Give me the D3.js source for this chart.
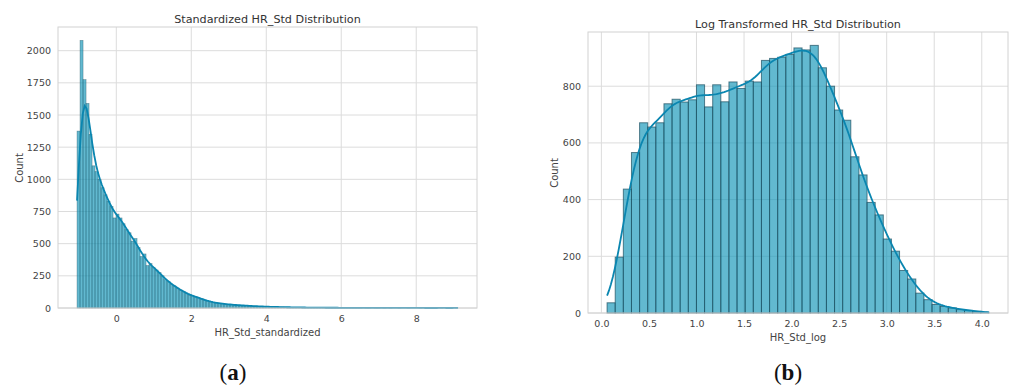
<!DOCTYPE html>
<html>
<head>
<meta charset="utf-8">
<script src="https://cdn.jsdelivr.net/npm/d3@7"></script>
<style>
  body { margin: 0; background: #fff; }
  svg { display: block; }
  text { font-family: "DejaVu Sans", sans-serif; }
</style>
</head>
<body>
<svg id="chart" width="1009" height="385"></svg>
<script>
// ---- Standardized HR_Std: histogram counts (127 equal-width bins) ----
const stdRange = [-1.047, 9.113];
const stdCounts = [
  1375, 2080, 1775, 1590, 1350, 1105, 1060, 1000, 935, 880,
  830, 790, 700, 730, 700, 655, 610, 585, 520, 540,
  470, 400, 420, 330, 345, 315, 295, 275, 250, 220,
  205, 185, 172, 155, 140, 128, 115, 100, 95, 88,
  80, 72, 62, 55, 48, 43, 40, 36, 33, 30,
  28, 26, 24, 22, 21, 20, 18, 17, 15, 14,
  13, 12, 11, 10, 9, 9, 8, 7, 7, 6,
  6, 5, 5, 5, 4, 4, 4, 3, 3, 3,
  3, 2, 2, 2, 2, 2, 2, 2, 1, 1,
  1, 2, 1, 1, 1, 0, 1, 1, 0, 1,
  1, 0, 1, 0, 1, 0, 0, 1, 0, 0,
  1, 0, 0, 0, 1, 0, 0, 0, 0, 0,
  0, 1, 0, 0, 0, 0, 1
];
const stdXTicks = [0, 2, 4, 6, 8];
const stdYTicks = [0, 250, 500, 750, 1000, 1250, 1500, 1750, 2000];

// ---- Log-transformed HR_Std: histogram counts (47 equal-width bins) ----
const logRange = [0.06, 4.075];
const logCounts = [
  36, 197, 437, 566, 671, 656, 671, 738, 754, 744,
  752, 805, 727, 805, 745, 815, 792, 818, 815, 891,
  898, 902, 912, 935, 928, 944, 865, 800, 716, 680,
  551, 487, 390, 346, 261, 218, 150, 120, 70, 47,
  30, 23, 18, 12, 9, 6, 3
];
const logXTicks = [0, 0.5, 1, 1.5, 2, 2.5, 3, 3.5, 4];
const logYTicks = [0, 200, 400, 600, 800];

const svg = d3.select("#chart");

const BAR_FILL = "#1094b8";
const BAR_EDGE = "#1c4f5f";
const LINE = "#0a86b0";
const GRID = "#dcdcdc";
const TEXT = "#444";

// Gaussian KDE over the binned sample (Scott's rule), scaled to counts per bin
function kdeCounts(counts, lo, hi) {
  const w = (hi - lo) / counts.length;
  const centers = counts.map((_, i) => lo + w * (i + 0.5));
  const n = d3.sum(counts);
  const mean = d3.sum(counts, (c, i) => c * centers[i]) / n;
  const variance = d3.sum(counts, (c, i) => c * (centers[i] - mean) ** 2) / (n - 1);
  const bw = Math.sqrt(variance) * Math.pow(n, -0.2);
  const norm = 1 / Math.sqrt(2 * Math.PI);
  return d3.range(200).map(k => {
    const x = lo + (hi - lo) * k / 199;
    const y = d3.sum(counts, (c, i) => {
      const u = (x - centers[i]) / bw;
      return c * w * norm * Math.exp(-0.5 * u * u) / bw;
    });
    return [x, y];
  });
}

function panel(opts) {
  const { box, counts, range, xTicks, yTicks, xFmt, title, xLabel, countPos } = opts;
  const [lo, hi] = range;
  const pad = (hi - lo) * 0.05;
  const kde = kdeCounts(counts, lo, hi);
  const yMax = Math.max(d3.max(counts), d3.max(kde, d => d[1])) * 1.05;

  const x = d3.scaleLinear().domain([lo - pad, hi + pad]).range([box.x0, box.x1]);
  const y = d3.scaleLinear().domain([0, yMax]).range([box.y1, box.y0]);

  const g = svg.append("g");

  // grid
  g.append("g").selectAll("line.v").data(xTicks).join("line")
    .attr("x1", d => x(d)).attr("x2", d => x(d))
    .attr("y1", box.y0).attr("y2", box.y1)
    .attr("stroke", GRID).attr("stroke-width", 1);
  g.append("g").selectAll("line.h").data(yTicks).join("line")
    .attr("x1", box.x0).attr("x2", box.x1)
    .attr("y1", d => y(d)).attr("y2", d => y(d))
    .attr("stroke", GRID).attr("stroke-width", 1);

  // histogram bars
  const w = (hi - lo) / counts.length;
  g.append("g").selectAll("rect").data(counts).join("rect")
    .attr("x", (d, i) => x(lo + i * w))
    .attr("width", (d, i) => x(lo + (i + 1) * w) - x(lo + i * w))
    .attr("y", d => y(d))
    .attr("height", d => y(0) - y(d))
    .attr("fill", BAR_FILL).attr("fill-opacity", 0.66)
    .attr("stroke", BAR_EDGE).attr("stroke-opacity", opts.edgeOpacity)
    .attr("stroke-width", opts.edgeWidth);

  // density curve
  g.append("path").datum(kde)
    .attr("fill", "none").attr("stroke", LINE).attr("stroke-width", 1.8)
    .attr("d", d3.line().x(d => x(d[0])).y(d => y(d[1])));

  // frame
  g.append("rect")
    .attr("x", box.x0).attr("y", box.y0)
    .attr("width", box.x1 - box.x0).attr("height", box.y1 - box.y0)
    .attr("fill", "none").attr("stroke", "#d2d2d2").attr("stroke-width", 1);

  // axes
  const xAxis = g.append("g").attr("transform", `translate(0,${box.y1})`)
    .call(d3.axisBottom(x).tickValues(xTicks).tickFormat(xFmt).tickSize(0).tickPadding(7.5));
  const yAxis = g.append("g").attr("transform", `translate(${box.x0},0)`)
    .call(d3.axisLeft(y).tickValues(yTicks).tickFormat(d3.format("d")).tickSize(0).tickPadding(7));
  [xAxis, yAxis].forEach(a => {
    a.select(".domain").remove();
    a.selectAll("text").attr("fill", TEXT).style("font-size", "9.5px")
      .style("font-family", "'DejaVu Sans', sans-serif");
  });

  const cx = (box.x0 + box.x1) / 2;
  g.append("text").attr("x", cx).attr("y", box.y0 - 4.5)
    .attr("text-anchor", "middle").attr("fill", "#333").style("font-size", "11.2px")
    .text(title);
  g.append("text").attr("x", cx).attr("y", box.y1 + 28)
    .attr("text-anchor", "middle").attr("fill", TEXT).style("font-size", "10px")
    .text(xLabel);
  g.append("text").attr("transform", `translate(${countPos[0]},${countPos[1]}) rotate(-90)`)
    .attr("text-anchor", "middle").attr("fill", TEXT).style("font-size", "10px")
    .text("Count");
}

panel({
  box: { x0: 58, y0: 27, x1: 477, y1: 308 },
  counts: stdCounts, range: stdRange,
  xTicks: stdXTicks, yTicks: stdYTicks, xFmt: d3.format("d"),
  title: "Standardized HR_Std Distribution",
  xLabel: "HR_Std_standardized",
  countPos: [23, 168],
  edgeWidth: 0.6, edgeOpacity: 0.55
});

panel({
  box: { x0: 588, y0: 32, x1: 1008, y1: 313 },
  counts: logCounts, range: logRange,
  xTicks: logXTicks, yTicks: logYTicks, xFmt: d3.format(".1f"),
  title: "Log Transformed HR_Std Distribution",
  xLabel: "HR_Std_log",
  countPos: [558, 173],
  edgeWidth: 1, edgeOpacity: 0.7
});

// sub-figure captions
[["a", 233], ["b", 788]].forEach(([letter, cx]) => {
  const t = svg.append("text").attr("x", cx).attr("y", 380)
    .attr("text-anchor", "middle").attr("fill", "#111")
    .style("font-family", "'Liberation Serif', serif").style("font-size", "23px");
  t.append("tspan").text("(");
  t.append("tspan").style("font-weight", "bold").text(letter);
  t.append("tspan").text(")");
});
</script>
</body>
</html>
